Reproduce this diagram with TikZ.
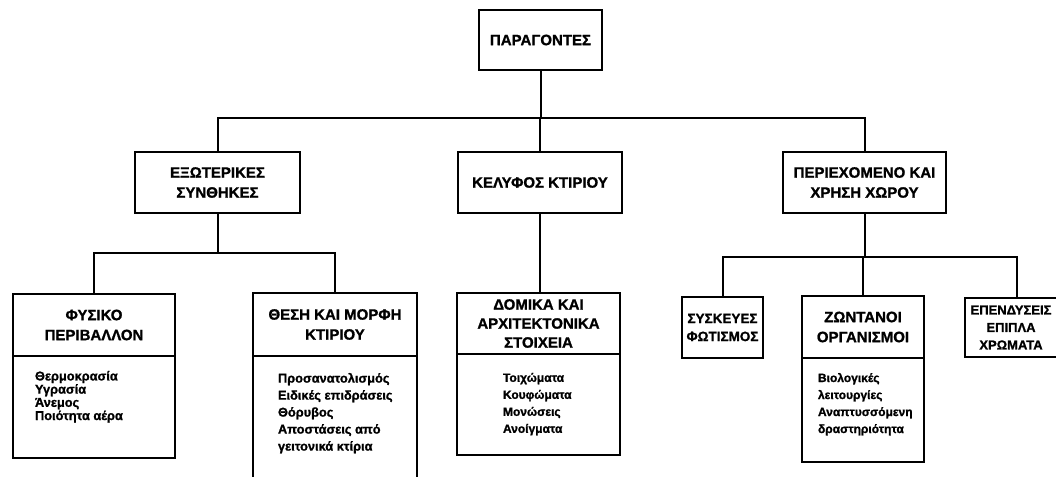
\documentclass[tikz,border=0pt]{standalone}
\usepackage{fontspec}
\setmainfont{Liberation Sans}[BoldFont={Liberation Sans Bold}, BoldFeatures={FakeBold=1.2}]
\newcommand\hfnt{\fontsize{15}{20}\selectfont\bfseries}
\newcommand\hfntsmall{\fontsize{13.5}{18}\selectfont\bfseries}
\newcommand\bfnt{\fontsize{12}{17}\selectfont\bfseries}
\tikzset{
  box/.style={draw, line width=2pt, inner sep=0pt, outer sep=0pt, anchor=north west, align=center, font=\hfnt},
  bodytext/.style={anchor=north west, inner sep=0pt, outer sep=0pt, align=left, font=\bfnt},
  conn/.style={line width=2pt}
}
\begin{document}
\begin{tikzpicture}[x=1pt,y=-1pt]
\useasboundingbox (0,0) rectangle (1056,476);
% top
\node[box, minimum width=123pt, minimum height=60pt] (top) at (479,10) {ΠΑΡΑΓΟΝΤΕΣ};
% level 1
\node[box, minimum width=165pt, minimum height=61pt] (ext) at (135,152) {ΕΞΩΤΕΡΙΚΕΣ\\ΣΥΝΘΗΚΕΣ};
\node[box, minimum width=164pt, minimum height=61pt] (kel) at (458,152) {ΚΕΛΥΦΟΣ ΚΤΙΡΙΟΥ};
\node[box, minimum width=163pt, minimum height=61pt] (use) at (783,152) {ΠΕΡΙΕΧΟΜΕΝΟ ΚΑΙ\\ΧΡΗΣΗ ΧΩΡΟΥ};
% level 2 left
\node[box, minimum width=162pt, minimum height=62pt] (envh) at (13,294) {ΦΥΣΙΚΟ\\ΠΕΡΙΒΑΛΛΟΝ};
\node[box, minimum width=162pt, minimum height=102pt] (envb) at (13,356) {};
\node[bodytext, font={\fontsize{12.8}{13.2}\selectfont\bfseries}] (envt) at (35,371) {Θερμοκρασία\\Υγρασία\\Άνεμος\\Ποιότητα αέρα};
\node[box, minimum width=164pt, minimum height=63pt] (posh) at (253,293) {ΘΕΣΗ ΚΑΙ ΜΟΡΦΗ\\ΚΤΙΡΙΟΥ};
\node[box, minimum width=164pt, minimum height=130pt] (posb) at (253,356) {};
\node[bodytext, font={\fontsize{12.8}{17}\selectfont\bfseries}] (post) at (278,373) {Προσανατολισμός\\Ειδικές επιδράσεις\\Θόρυβος\\Αποστάσεις από\\γειτονικά κτίρια};
% level 2 middle
\node[box, minimum width=163pt, minimum height=61pt, font={\fontsize{15}{19}\selectfont\bfseries}] (strh) at (457,293) {ΔΟΜΙΚΑ ΚΑΙ\\ΑΡΧΙΤΕΚΤΟΝΙΚΑ\\ΣΤΟΙΧΕΙΑ};
\node[box, minimum width=163pt, minimum height=101pt] (strb) at (457,354) {};
\node[bodytext] (strt) at (503,373) {Τοιχώματα\\Κουφώματα\\Μονώσεις\\Ανοίγματα};
% level 2 right
\node[box, minimum width=81pt, minimum height=61pt, font=\hfntsmall] (dev) at (682,297) {ΣΥΣΚΕΥΕΣ\\ΦΩΤΙΣΜΟΣ};
\node[box, minimum width=122pt, minimum height=62pt] (orgh) at (802,296) {ΖΩΝΤΑΝΟΙ\\ΟΡΓΑΝΙΣΜΟΙ};
\node[box, minimum width=122pt, minimum height=104pt] (orgb) at (802,358) {};
\node[bodytext] (orgt) at (818,373) {Βιολογικές\\λειτουργίες\\Αναπτυσσόμενη\\δραστηριότητα};
\node[box, minimum width=92pt, minimum height=59pt, font={\fontsize{13}{17.5}\selectfont\bfseries}] (fin) at (965,298) {ΕΠΕΝΔΥΣΕΙΣ\\ΕΠΙΠΛΑ\\ΧΡΩΜΑΤΑ};
% connectors
\coordinate (busA) at (0,118);
\coordinate (busL) at (0,253);
\coordinate (busR) at (0,257);
\coordinate (finstem) at (1017,298);
\draw[conn] (top.south) -- (top.south |- busA);
\draw[conn] (kel.north) -- (kel.north |- busA);
\draw[conn] (ext.north) -- (ext.north |- busA) -- (use.north |- busA) -- (use.north);
\draw[conn] (ext.south) -- (ext.south |- busL);
\draw[conn] (envh.north) -- (envh.north |- busL) -- (posh.north |- busL) -- (posh.north);
\draw[conn] (kel.south) -- (kel.south |- strh.north);
\draw[conn] (use.south) -- (use.south |- busR);
\draw[conn] (dev.north) -- (dev.north |- busR) -- (finstem |- busR) -- (finstem);
\draw[conn] (orgh.north) -- (orgh.north |- busR);
\end{tikzpicture}
\end{document}
